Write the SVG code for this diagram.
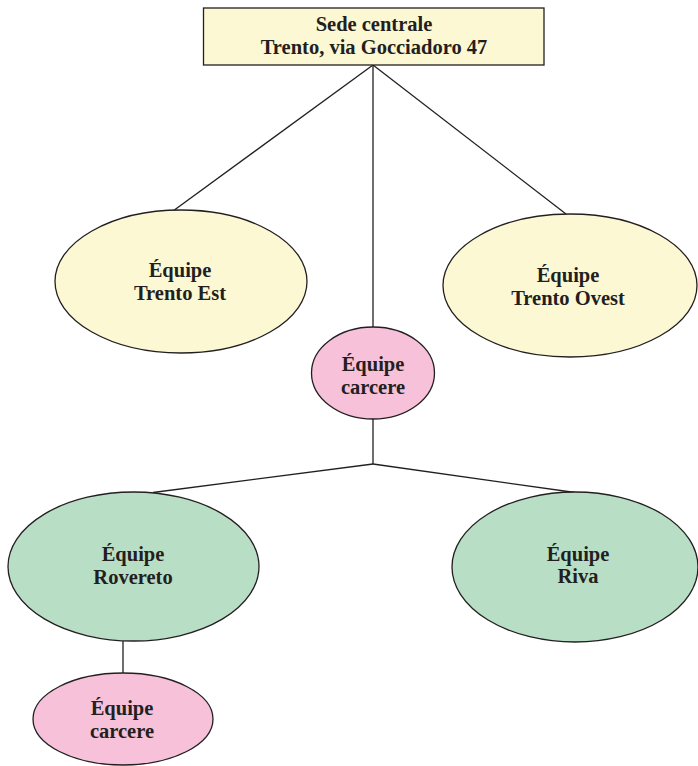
<svg xmlns="http://www.w3.org/2000/svg" width="698" height="766" viewBox="0 0 698 766">
<style>
.bg{fill:#ffffff}
.line{stroke:#231f20;stroke-width:1.3;fill:none}
.shape{stroke:#231f20;stroke-width:1.3}
.yellow{fill:#fdf8d4}
.pink{fill:#f6c1d9}
.green{fill:#b9dec6}
text{font-family:"Liberation Serif","Times New Roman",serif;font-weight:bold;font-size:20.5px;fill:#231f20;text-anchor:middle}
</style>
<rect class="bg" x="0" y="0" width="698" height="766"/>
<g id="connectors">
<line class="line" x1="373" y1="65" x2="173" y2="211"/>
<line class="line" x1="373" y1="65" x2="373" y2="327"/>
<line class="line" x1="373" y1="65" x2="566" y2="214"/>
<line class="line" x1="373" y1="419" x2="373" y2="464"/>
<line class="line" x1="373" y1="464" x2="153" y2="492.5"/>
<line class="line" x1="373" y1="464" x2="575" y2="492.5"/>
<line class="line" x1="123" y1="641" x2="123" y2="673"/>
</g>
<g id="sede">
<rect class="shape yellow" x="203.5" y="8" width="340.5" height="57"/>
<text x="374" y="31">Sede centrale</text>
<text x="374" y="54">Trento, via Gocciadoro 47</text>
</g>
<g id="trento-est">
<ellipse class="shape yellow" cx="181" cy="281.5" rx="126" ry="71.5"/>
<text x="180" y="277">Équipe</text>
<text x="180" y="300">Trento Est</text>
</g>
<g id="trento-ovest">
<ellipse class="shape yellow" cx="570" cy="285.5" rx="127" ry="71.5"/>
<text x="568" y="282">Équipe</text>
<text x="568" y="305">Trento Ovest</text>
</g>
<g id="carcere-trento">
<ellipse class="shape pink" cx="373" cy="373" rx="61.5" ry="46"/>
<text x="373" y="371">Équipe</text>
<text x="373" y="393.5">carcere</text>
</g>
<g id="rovereto">
<ellipse class="shape green" cx="133.5" cy="566.5" rx="125.5" ry="74.5"/>
<text x="133" y="561">Équipe</text>
<text x="133" y="583.5">Rovereto</text>
</g>
<g id="riva">
<ellipse class="shape green" cx="575" cy="567" rx="123" ry="75"/>
<text x="578" y="560.5">Équipe</text>
<text x="578" y="583">Riva</text>
</g>
<g id="carcere-rovereto">
<ellipse class="shape pink" cx="123" cy="719" rx="90" ry="46"/>
<text x="122" y="715">Équipe</text>
<text x="122" y="737.5">carcere</text>
</g>
</svg>
